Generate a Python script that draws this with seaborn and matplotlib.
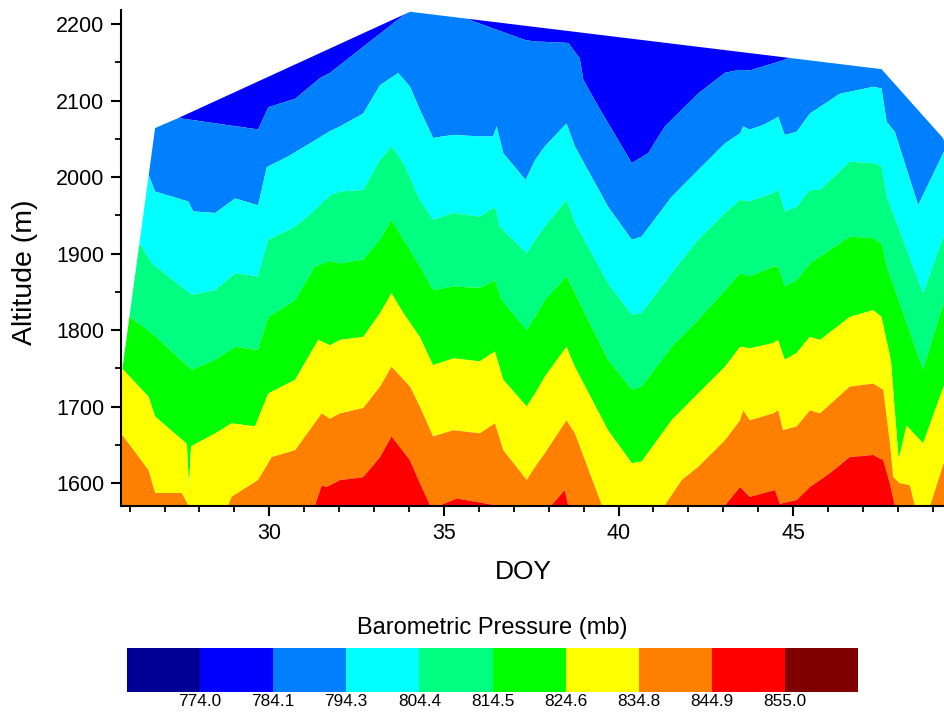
import numpy as np
import matplotlib
matplotlib.use("Agg")
import matplotlib.pyplot as plt
import seaborn as sns
from matplotlib.patches import Polygon
from matplotlib.ticker import MultipleLocator

# ---------------- data ----------------
# colour classes of barometric pressure (mb)
pressure_levels = [763.9, 774.0, 784.1, 794.3, 804.4, 814.5, 824.6, 834.8, 844.9, 855.0, 865.1]
level_colors = ["#000096", "#0000ff", "#0080ff", "#00ffff", "#00ff80",
                "#00ff00", "#ffff00", "#ff8000", "#ff0000", "#800000"]
cbar_labels = ["774.0", "784.1", "794.3", "804.4", "814.5", "824.6", "834.8", "844.9", "855.0"]

# altitude (m) of each isobar boundary versus DOY
b784_doy = [25.5, 27.39, 29.68, 29.97, 30.74, 31.45, 31.74, 33.98, 34.5, 35.2, 35.75, 36.41, 37.32,
            37.61, 38.56, 38.89, 38.99, 39.42, 40.38, 40.85, 41.33, 42.28, 43.05, 43.48, 43.76,
            44.62, 45.5, 47.5, 49.5]
b784_alt = [2082, 2077, 2062, 2091, 2102, 2129, 2136, 2216, 2235, 2228, 2205, 2194, 2179,
            2177, 2175, 2155, 2127, 2092, 2018, 2031, 2066, 2109, 2136, 2140, 2139,
            2151, 2165, 2160, 2140]

b794_doy = [25.5, 26.54, 26.73, 27.68, 27.82, 28.45, 29.02, 29.68, 29.93, 30.54, 31.31, 31.74,
            32.02, 32.69, 33.17, 33.69, 34.03, 34.31, 34.69, 35.27, 36.03, 36.41, 36.51, 36.70,
            37.34, 37.61, 37.89, 38.51, 38.75, 39.70, 40.38, 40.66, 41.52, 42.28, 43.05, 43.48,
            43.57, 43.76, 44.14, 44.43, 44.57, 44.76, 45.10, 45.48, 46.34, 47.29, 47.53, 47.68,
            47.91, 48.58, 49.34]
b794_alt = [2010, 2003, 1981, 1968, 1955, 1953, 1972, 1963, 2013, 2027, 2048, 2060,
            2066, 2083, 2120, 2136, 2118, 2088, 2051, 2055, 2053, 2053, 2066, 2031,
            1996, 2022, 2040, 2070, 2040, 1961, 1918, 1922, 1974, 2009, 2044, 2057,
            2066, 2062, 2068, 2075, 2079, 2055, 2059, 2083, 2109, 2118, 2116, 2072,
            2059, 1963, 2035]

b804_doy = [25.5, 26.35, 26.63, 27.78, 28.45, 29.02, 29.68, 29.97, 30.74, 31.31,
            31.74, 32.02, 32.69, 33.17, 33.50, 33.84, 34.31, 34.69, 35.27, 36.03,
            36.46, 36.60, 37.37, 37.61, 37.89, 38.51, 38.75, 39.70, 40.38, 40.66,
            41.52, 42.28, 43.05, 43.48, 43.76, 44.43, 44.57, 44.76, 45.10, 45.48,
            45.77, 46.62, 47.29, 47.53, 47.68, 48.72, 49.34]
b804_alt = [1925, 1909, 1887, 1846, 1852, 1874, 1870, 1918, 1935, 1957,
            1976, 1981, 1983, 2022, 2040, 2018, 1970, 1944, 1953, 1948,
            1961, 1935, 1900, 1918, 1935, 1970, 1940, 1861, 1820, 1822,
            1874, 1918, 1953, 1970, 1968, 1979, 1983, 1955, 1961, 1983,
            1983, 2020, 2018, 2014, 1974, 1848, 1926]

b814_doy = [25.5, 26.01, 26.63, 27.78, 28.45, 29.02, 29.68, 29.97, 30.74, 31.31,
            31.74, 32.02, 32.69, 33.17, 33.50, 33.84, 34.31, 34.69, 35.27, 36.03,
            36.46, 36.65, 37.37, 37.61, 37.89, 38.51, 38.75, 39.70, 40.38, 40.66,
            41.52, 42.28, 43.05, 43.48, 43.76, 44.43, 44.57, 44.76, 45.10, 45.48,
            46.62, 47.29, 47.53, 47.68, 48.72, 49.34]
b814_alt = [1826, 1817, 1796, 1748, 1761, 1778, 1774, 1817, 1839, 1883,
            1890, 1887, 1892, 1918, 1944, 1918, 1883, 1852, 1857, 1855,
            1865, 1839, 1800, 1817, 1839, 1870, 1848, 1761, 1722, 1726,
            1778, 1813, 1852, 1874, 1870, 1883, 1883, 1857, 1865, 1887,
            1922, 1920, 1913, 1883, 1748, 1839]

b824_doy = [25.5, 25.82, 26.54, 26.73, 27.64, 27.70, 27.76, 28.45, 28.92, 29.59, 29.97, 30.74,
            31.40, 31.74, 32.02, 32.69, 33.17, 33.50, 33.84, 34.31, 34.69, 35.27,
            36.03, 36.46, 36.70, 37.37, 37.61, 37.89, 38.51, 38.75, 39.70, 40.38,
            40.66, 41.52, 42.28, 43.05, 43.48, 43.76, 44.43, 44.57, 44.76, 45.10,
            45.48, 45.77, 46.62, 47.29, 47.53, 47.80, 48.02, 48.25, 48.72, 49.34]
b824_alt = [1760, 1748, 1713, 1687, 1651, 1592, 1648, 1665, 1678, 1674, 1717, 1735,
            1787, 1780, 1787, 1791, 1822, 1848, 1822, 1791, 1754, 1763,
            1759, 1772, 1735, 1700, 1717, 1739, 1778, 1752, 1669, 1626,
            1628, 1682, 1717, 1752, 1778, 1776, 1783, 1787, 1761, 1770,
            1791, 1787, 1817, 1826, 1817, 1760, 1630, 1675, 1652, 1730]

b834_doy = [25.5, 25.82, 26.54, 26.73, 27.49, 27.68, 27.8, 28.7, 28.83, 28.92,
            29.68, 30.07, 30.74, 31.50, 31.74, 32.02, 32.69, 33.17, 33.50, 34.03,
            34.31, 34.69, 35.27, 36.03, 36.46, 36.70, 37.37, 37.61, 37.89, 38.51,
            38.75, 39.52, 39.65, 41.2, 41.33, 41.81, 42.28, 43.05, 43.48, 43.57,
            43.76, 44.43, 44.57, 44.71, 45.10, 45.48, 45.77, 46.62, 47.29, 47.58,
            47.77, 47.86, 48.05, 48.34, 48.48, 48.6, 48.8, 48.93, 49.34]
b834_alt = [1675, 1661, 1617, 1587, 1587, 1571, 1545, 1545, 1571, 1582,
            1604, 1634, 1643, 1691, 1684, 1691, 1698, 1726, 1752, 1726,
            1700, 1661, 1669, 1665, 1678, 1643, 1604, 1621, 1639, 1682,
            1665, 1571, 1545, 1545, 1571, 1604, 1621, 1656, 1682, 1695,
            1682, 1691, 1695, 1669, 1674, 1695, 1691, 1726, 1730, 1722,
            1652, 1608, 1600, 1597, 1571, 1545, 1545, 1571, 1630]

b844_doy = [25.5, 31.2, 31.31, 31.50, 31.64, 32.02, 32.69, 33.17, 33.50, 34.03,
            34.31, 34.60, 34.7, 34.8, 34.89, 35.37, 36.51, 36.6, 37.95, 38.08,
            38.46, 38.56, 38.7, 42.9, 43.05, 43.48, 43.76, 44.14, 44.48, 44.62,
            45.10, 45.48, 46.05, 46.62, 47.29, 47.58, 47.77, 47.91, 48.05, 49.5]
b844_alt = [1530, 1530, 1571, 1597, 1595, 1604, 1608, 1634, 1661, 1630,
            1600, 1571, 1540, 1540, 1571, 1580, 1571, 1540, 1540, 1571,
            1591, 1571, 1540, 1540, 1571, 1595, 1582, 1587, 1591, 1573,
            1578, 1595, 1613, 1634, 1637, 1630, 1600, 1571, 1540, 1540]

# outline (convex hull) of the sampled region
hull_doy = [25.17, 26.73, 27.39, 34.03, 47.53, 49.29, 50.5, 50.5, 25.0]
hull_alt = [1540, 2064, 2077, 2216, 2141, 2051, 1900, 1500, 1500]

# ---------------- build the pressure field ----------------
boundaries = [(b784_doy, b784_alt), (b794_doy, b794_alt), (b804_doy, b804_alt),
              (b814_doy, b814_alt), (b824_doy, b824_alt), (b834_doy, b834_alt),
              (b844_doy, b844_alt)]
inner_levels = pressure_levels[2:9]  # 784.1 ... 844.9

doy_grid = np.linspace(25.0, 50.0, 2501)
alt_grid = np.linspace(1500, 2260, 761)
B = np.array([np.interp(doy_grid, d, a) for d, a in boundaries])
for k in range(1, B.shape[0]):
    B[k] = np.minimum(B[k], B[k - 1] - 2)
top = B[0] + 400
bottom = B[-1] - 400
xp = np.vstack([bottom, B[::-1], top])
fp = [pressure_levels[9]] + inner_levels[::-1] + [pressure_levels[1]]
P = np.empty((alt_grid.size, doy_grid.size))
for j in range(doy_grid.size):
    P[:, j] = np.interp(alt_grid, xp[:, j], fp)
X, Y = np.meshgrid(doy_grid, alt_grid)

# ---------------- plot ----------------
sns.set_theme(style="ticks")
plt.rcParams["font.family"] = ["Liberation Sans", "DejaVu Sans"]
plt.rcParams["axes.linewidth"] = 1.5

fig = plt.figure(figsize=(9.44, 7.14), dpi=100)
ax = fig.add_axes([0.1279, 0.2913, 0.8721, 0.6947])

cs = ax.contourf(X, Y, P, levels=pressure_levels, colors=level_colors, antialiased=True)
hull = Polygon(list(zip(hull_doy, hull_alt)), closed=True, transform=ax.transData,
               facecolor="none", edgecolor="none")
cs.set_clip_path(hull)

ax.set_xlim(25.746, 49.32)
ax.set_ylim(1570, 2218.3)
ax.xaxis.set_major_locator(MultipleLocator(5))
ax.xaxis.set_minor_locator(MultipleLocator(1))
ax.yaxis.set_major_locator(MultipleLocator(100))
ax.yaxis.set_minor_locator(MultipleLocator(50))
for s in ["top", "right"]:
    ax.spines[s].set_visible(False)
for s in ["left", "bottom"]:
    ax.spines[s].set_color("black")
    ax.spines[s].set_linewidth(1.5)
ax.tick_params(which="major", direction="out", length=7, width=1.5, color="black",
               labelsize=15.5, labelcolor="black", pad=5)
ax.tick_params(which="minor", direction="out", length=4, width=1.3, color="black")
ax.tick_params(axis="x", which="both", bottom=True)
ax.tick_params(axis="y", which="both", left=True)

fig.text(523 / 944, 1 - 572 / 714, "DOY", ha="center", va="center", fontsize=19, color="black")
fig.text(25 / 944, 1 - 272 / 714, "Altitude (m)", ha="center", va="center", rotation=90,
         fontsize=20.5, color="black")

cax = fig.add_axes([126.7 / 944, 1 - 691.7 / 714, 731.6 / 944, 44 / 714])
cb = fig.colorbar(cs, cax=cax, orientation="horizontal", ticks=pressure_levels[1:10])
cb.ax.set_xticklabels(cbar_labels)
cb.outline.set_visible(False)
cb.ax.tick_params(length=0, labelsize=12.4, pad=2, labelcolor="black")
fig.text(492.5 / 944, 1 - 628 / 714, "Barometric Pressure (mb)", ha="center", va="center",
         fontsize=17, color="black")

fig.savefig("out.png", dpi=100)
